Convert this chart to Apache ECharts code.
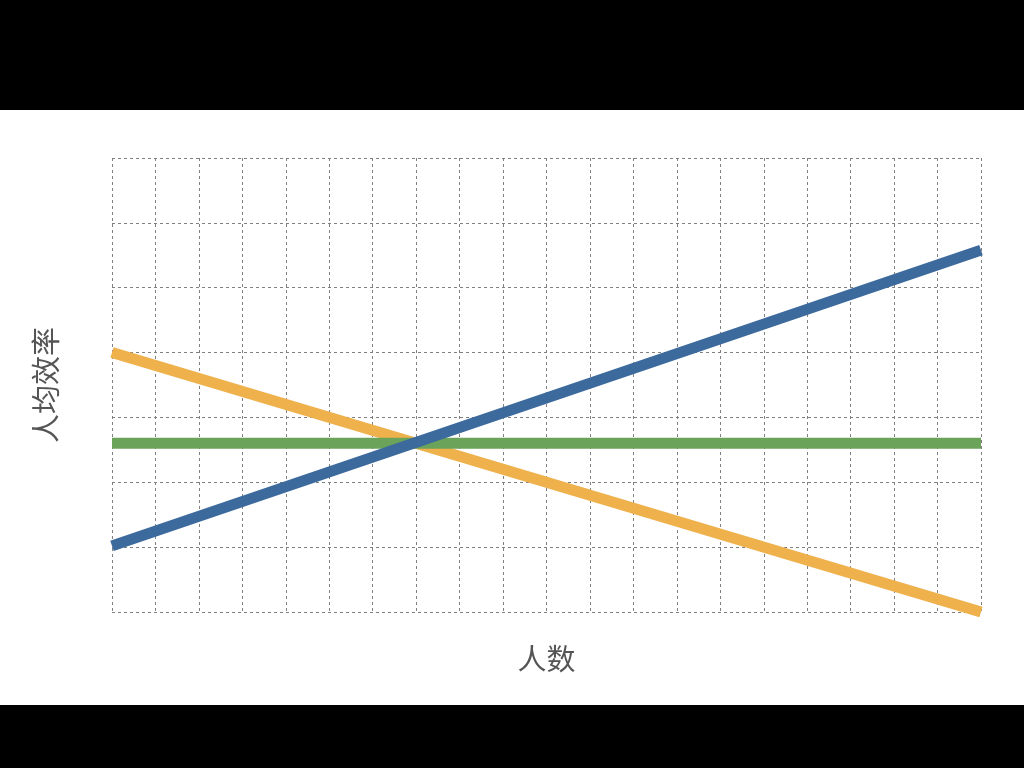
<!DOCTYPE html>
<html>
<head>
<meta charset="utf-8">
<script src="https://cdn.jsdelivr.net/npm/echarts@6/dist/echarts.min.js"></script>
<style>
  html, body { margin: 0; padding: 0; background: #000; width: 1024px; height: 768px; overflow: hidden; }
  #chart { position: absolute; left: 0; top: 110px; width: 1024px; height: 595px; background: #fff; }
</style>
</head>
<body>
<div id="chart"></div>
<script>
// 人数 (x) 与 人均效率 (y)
const xRange = [0, 20];
const yRange = [0, 7];
const blueLine = [[0, 1.02], [20, 5.58]];
const orangeLine = [[0, 4.0], [20, 0]];
const greenLine = [[0, 2.6], [20, 2.6]];

const myChart = echarts.init(document.getElementById('chart'));

const dashed = { show: true, lineStyle: { color: '#808080', width: 1, type: [3, 3] } };

myChart.setOption({
    animation: false,
    grid: { left: 112, right: 43, top: 48, bottom: 93 },
    xAxis: {
        type: 'value',
        min: xRange[0],
        max: xRange[1],
        interval: 1,
        name: '人数',
        nameLocation: 'middle',
        nameGap: 32,
        nameTextStyle: { fontSize: 29, color: '#555', fontFamily: 'Noto Sans CJK SC' },
        axisLine: { show: false },
        axisTick: { show: false },
        axisLabel: { show: false },
        splitLine: dashed
    },
    yAxis: {
        type: 'value',
        min: yRange[0],
        max: yRange[1],
        interval: 1,
        name: '人均效率',
        nameLocation: 'middle',
        nameGap: 52,
        nameTextStyle: { fontSize: 29, color: '#555', fontFamily: 'Noto Sans CJK SC' },
        axisLine: { show: false },
        axisTick: { show: false },
        axisLabel: { show: false },
        splitLine: dashed
    },
    series: [
        { name: 'orange', data: orangeLine, color: '#efb14c' },
        { name: 'green', data: greenLine, color: '#6ba35a' },
        { name: 'blue', data: blueLine, color: '#3c6a9d' }
    ].map(obj => ({
        ...obj,
        type: 'line',
        symbol: 'none',
        lineStyle: { width: 11, color: obj.color, cap: 'butt' }
    }))
});
</script>
</body>
</html>
